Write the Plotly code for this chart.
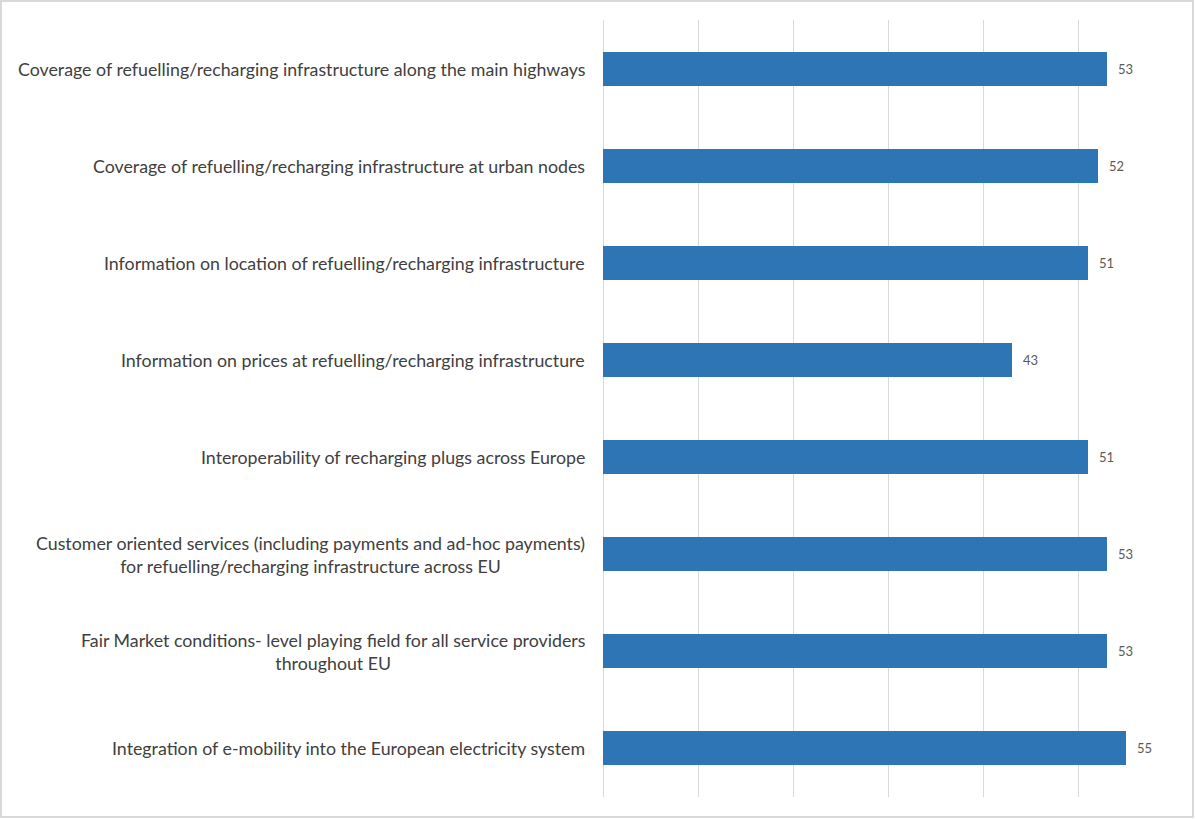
import plotly.graph_objects as go

categories = [
    "Coverage of refuelling/recharging infrastructure along the main highways",
    "Coverage of refuelling/recharging infrastructure at urban nodes",
    "Information on location of refuelling/recharging infrastructure",
    "Information on prices at refuelling/recharging infrastructure",
    "Interoperability of recharging plugs across Europe",
    "Customer oriented services (including payments and ad-hoc payments)<br>for refuelling/recharging infrastructure across EU",
    "Fair Market conditions- level playing field for all service providers<br>throughout EU",
    "Integration of e-mobility into the European electricity system",
]
values = [53, 52, 51, 43, 51, 53, 53, 55]

W, H = 1195, 819
ML, MR, MT, MB = 603, 21, 20, 22
PW, PH = W - ML - MR, H - MT - MB
FONT = "Lato, Open Sans, sans-serif"

fig = go.Figure()
fig.add_trace(go.Bar(
    y=list(range(len(categories))),
    x=values,
    orientation="h",
    width=0.35,
    marker=dict(color="#2E75B6", line=dict(width=0)),
    hoverinfo="skip",
))

# value labels just past each bar end
for i, v in enumerate(values):
    fig.add_annotation(
        x=v, xref="x", y=i, yref="y",
        text=str(v), showarrow=False,
        xanchor="left", yanchor="middle", xshift=9,
        font=dict(family=FONT, size=13, color="#595959"),
    )

# category labels, centred line by line
for i, c in enumerate(categories):
    fig.add_annotation(
        x=0, xref="paper", y=i, yref="y",
        text=c, showarrow=False,
        xanchor="right", yanchor="middle", align="center",
        xshift=-16,
        font=dict(family=FONT, size=17.8, color="#404040"),
    )

# outer frame
fig.add_shape(
    type="rect", xref="paper", yref="paper",
    x0=-(ML - 1) / PW, x1=1 + (MR - 2) / PW,
    y0=-(MB - 2) / PH, y1=1 + (MT - 1) / PH,
    line=dict(color="#d9d9d9", width=2),
)

fig.update_layout(
    width=W, height=H,
    margin=dict(l=ML, r=MR, t=MT, b=MB),
    plot_bgcolor="white", paper_bgcolor="white",
    showlegend=False,
    bargap=0,
    xaxis=dict(range=[0, 60], dtick=10, showticklabels=False,
               showgrid=True, gridcolor="#d9d9d9", gridwidth=1,
               zeroline=True, zerolinecolor="#d9d9d9", zerolinewidth=1,
               showline=False, fixedrange=True),
    yaxis=dict(range=[len(categories) - 0.5, -0.5], showticklabels=False,
               showgrid=False, zeroline=False, showline=False, fixedrange=True),
)

fig.write_html("out.html")
